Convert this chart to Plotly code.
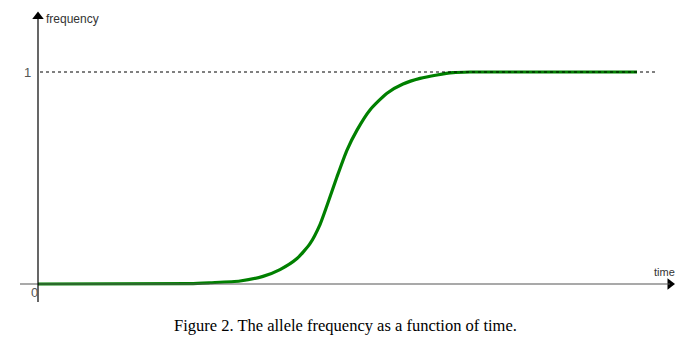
import plotly.graph_objects as go

# Data: time (arbitrary units) and allele frequency
time = [0, 152, 172, 202, 225, 242, 259, 272, 282, 289, 299, 309, 319, 332, 349, 365, 382, 399, 415, 432, 599]
frequency = [0, 0.002, 0.006, 0.014, 0.036, 0.068, 0.12, 0.19, 0.28, 0.37, 0.506, 0.632, 0.726, 0.821,
             0.90, 0.943, 0.97, 0.986, 0.997, 1.0, 1.0]
y_ticks = [0, 1]
y_tick_labels = ["0", "1"]
caption = "Figure 2. The allele frequency as a function of time."

fig = go.Figure()

# reference dashed line at frequency = 1
fig.add_shape(type="line", x0=2, x1=617, y0=1, y1=1,
              line=dict(color="black", width=1, dash="3px,3px"))
# axes
fig.add_shape(type="line", x0=-18, x1=632, y0=0, y1=0,
              line=dict(color="#555555", width=1.2))
fig.add_shape(type="line", x0=0, x1=0, y0=-0.085, y1=1.25,
              line=dict(color="black", width=1.2))

fig.add_trace(go.Scatter(x=time, y=frequency, mode="lines",
                         line=dict(color="#008000", width=3.2, shape="spline", smoothing=0.6),
                         hoverinfo="skip"))

# arrow heads
fig.add_trace(go.Scatter(x=[0], y=[1.262], mode="markers",
                         marker=dict(symbol="triangle-up", size=10, color="black"), hoverinfo="skip"))
fig.add_trace(go.Scatter(x=[632], y=[0], mode="markers",
                         marker=dict(symbol="triangle-right", size=10, color="black"), hoverinfo="skip"))

lab = dict(family="Liberation Sans, Arial, sans-serif", size=12, color="#333333")
fig.add_annotation(x=6, y=(284 - 19) / 212, text="frequency", showarrow=False,
                   xanchor="left", yanchor="middle", font=lab)
fig.add_annotation(x=626, y=(284 - 272) / 212, text="time", showarrow=False,
                   xanchor="center", yanchor="middle", font=dict(family=lab["family"], size=11, color="#333333"))
fig.add_annotation(x=-10.5, y=y_ticks[1], text=y_tick_labels[1], showarrow=False,
                   xanchor="center", yanchor="middle", font=dict(family=lab["family"], size=13, color="#555555"))
fig.add_annotation(x=-4, y=(284 - 292) / 212, text=y_tick_labels[0], showarrow=False,
                   xanchor="center", yanchor="middle", font=dict(family=lab["family"], size=13, color="#555555"))

fig.add_annotation(x=307, y=(284 - 325) / 212, text=caption, showarrow=False,
                   xanchor="center", yanchor="middle",
                   font=dict(family="Liberation Serif, Times New Roman, serif", size=16.5, color="black"))

# page has an 8px body margin; figure sized to fit inside the window
fig.update_layout(
    width=679, height=332, autosize=False,
    margin=dict(l=0, r=0, t=0, b=0),
    paper_bgcolor="white", plot_bgcolor="white",
    showlegend=False,
    xaxis=dict(range=[-30, 649], visible=False, fixedrange=True),
    yaxis=dict(range=[(284 - 340) / 212, (284 - 8) / 212], visible=False, fixedrange=True),
)

fig.write_html("out.html")
